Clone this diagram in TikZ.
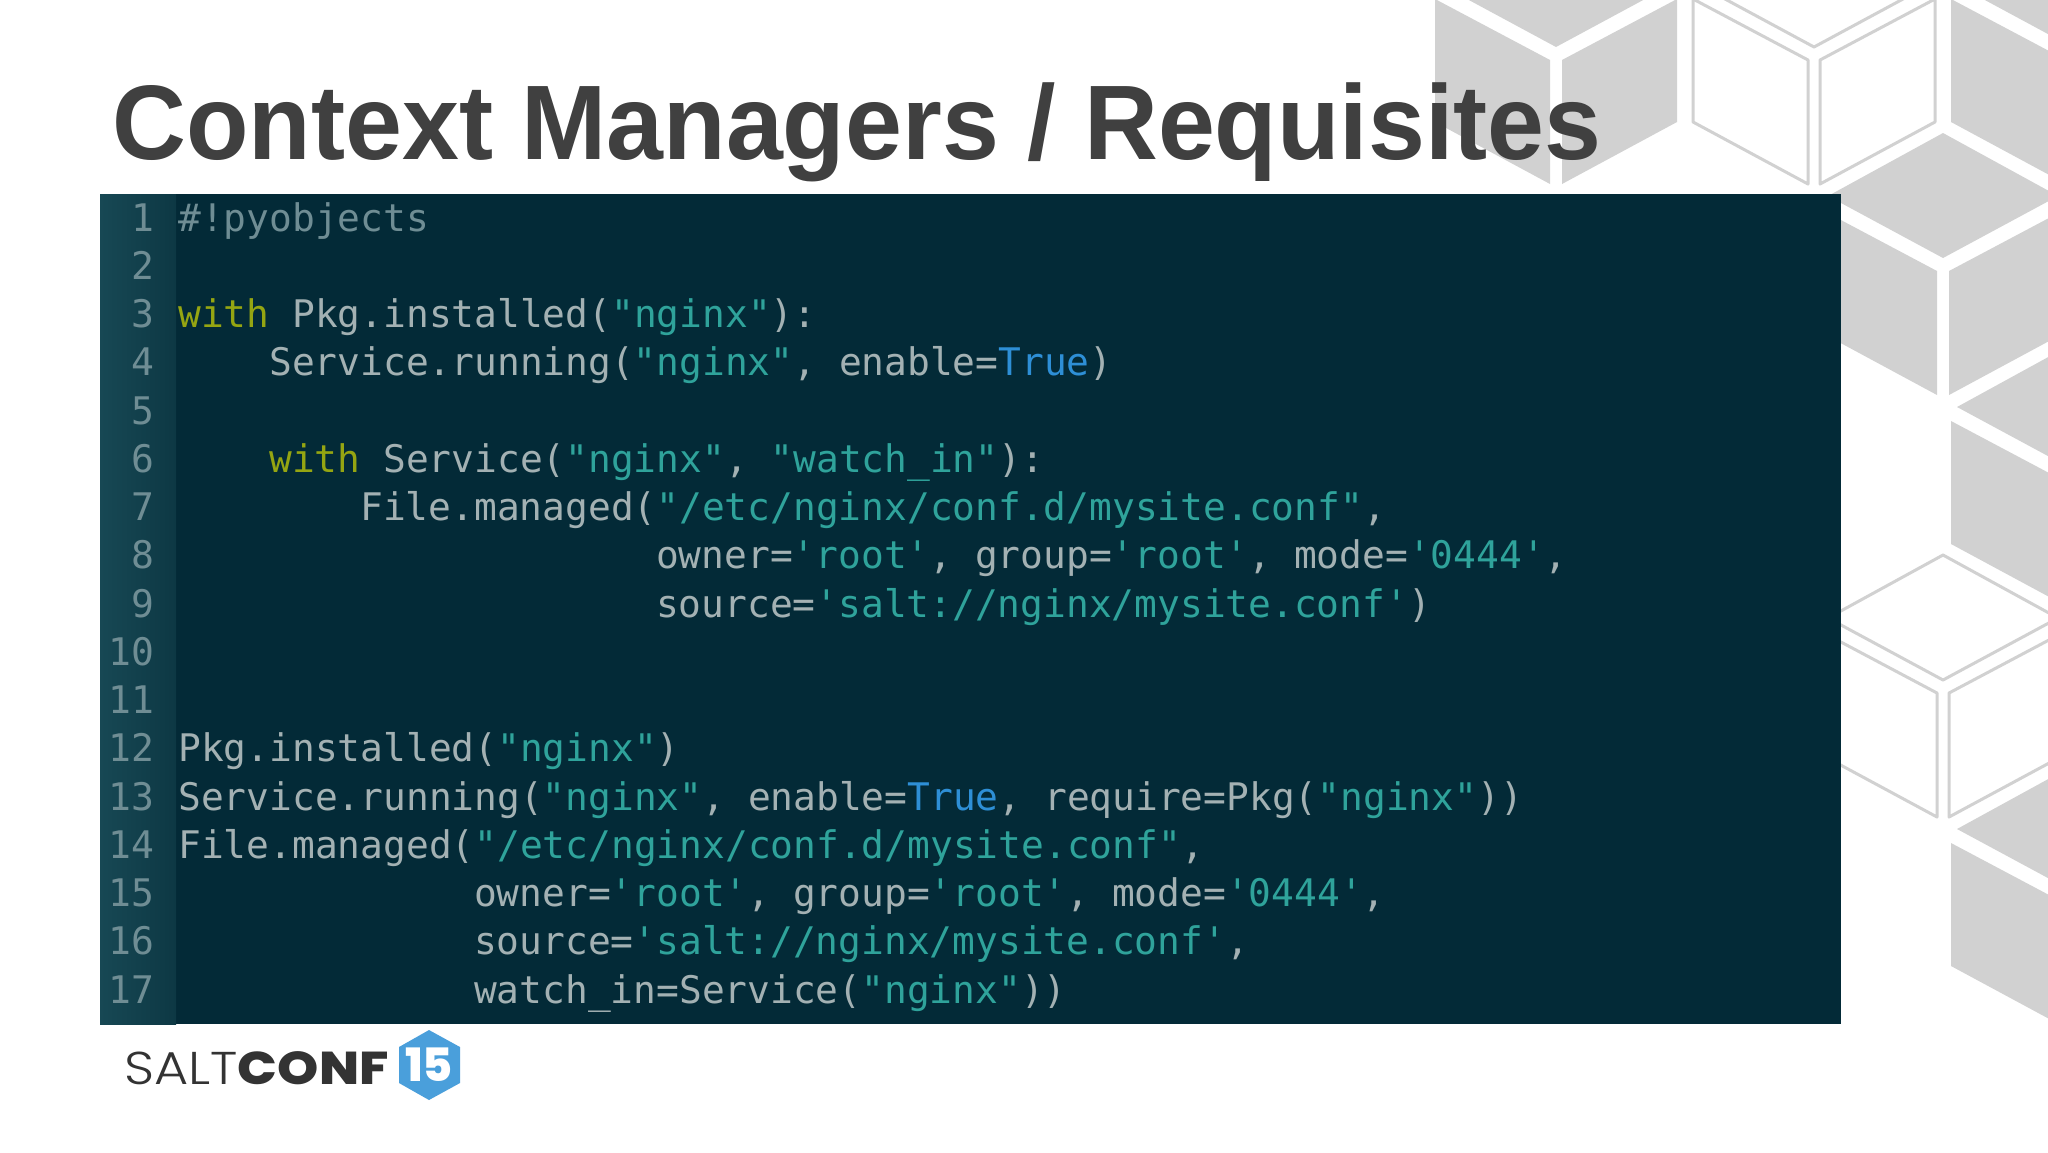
\documentclass[tikz,border=0pt]{standalone}
\usepackage{fontspec}
\setmainfont{Liberation Sans}
\newfontfamily\codefont{DejaVu Sans Mono}
\newfontfamily\logolight{Poppins Light}
\newfontfamily\logobold{Poppins ExtraBold}
\definecolor{titlegray}{HTML}{404040}
\definecolor{cubegray}{HTML}{D1D1D1}
\definecolor{panelblue}{HTML}{032A37}
\definecolor{gutterblue}{HTML}{0D3844}
\definecolor{gutterlight}{HTML}{174854}
\definecolor{codegray}{HTML}{A3B1B3}
\definecolor{numgray}{HTML}{6F8D94}
\definecolor{codecyan}{HTML}{2FA39B}
\definecolor{codegreen}{HTML}{95A512}
\definecolor{codeblue}{HTML}{2E8FD6}
\definecolor{hexblue}{HTML}{4A9FDB}
\newcommand{\cstr}[1]{\textcolor{codecyan}{#1}}
\newcommand{\ckw}[1]{\textcolor{codegreen}{#1}}
\newcommand{\cval}[1]{\textcolor{codeblue}{#1}}
\tikzset{
	cube/.pic={
		\path[pic actions] (-115,-62)--(0,0)--(115,-62)--(0,-125)--cycle;
		\path[pic actions] (-121,-48)--(-6,13)--(-6,137)--(-121,75)--cycle;
		\path[pic actions] (6,13)--(121,-48)--(121,75)--(6,137)--cycle;
	},
	codeline/.style={anchor=base west, inner sep=0pt, font=\codefont\fontsize{19}{19}\selectfont, text=codegray},
	numline/.style={anchor=base east, inner sep=0pt, font=\codefont\fontsize{19}{19}\selectfont, text=numgray}
}
\begin{document}
\begin{tikzpicture}[x=.5pt, y=-.5pt]
\clip (0,0) rectangle (2048,1152);
\fill[white] (0,0) rectangle (2048,1152);
% cubes behind the slide
\foreach \x/\y in {1556/47,2072/47,1943/258,2072/469,2072/891}
	\pic[fill=cubegray] at (\x,\y) {cube};
\foreach \x/\y in {1814/47,1943/680}
	\pic[draw=cubegray, line width=1.5pt, line join=round] at (\x,\y) {cube};
\node[anchor=base west, inner sep=0pt, xscale=.965, text=titlegray, font=\bfseries\fontsize{53}{53}\selectfont] (title) at (112,159) {Context Managers / Requisites};
% code panel
\fill[panelblue] (100,194) rectangle (1841,1024);
\shade[left color=gutterlight, right color=gutterblue] (100,194) rectangle (176,1024);
\foreach \n in {1,...,17}
	\node[numline] (n\n) at (155,231+48.25*\n-48.25) {\n};
\foreach \n/\col/\code in {
	1/0/{\textcolor{numgray}{\#!pyobjects}},
	3/0/{\ckw{with} Pkg.installed(\cstr{"nginx"}):},
	4/4/{Service.running(\cstr{"nginx"}, enable=\cval{True})},
	6/4/{\ckw{with} Service(\cstr{"nginx"}, \cstr{"watch\_in"}):},
	7/8/{File.managed(\cstr{"/etc/nginx/conf.d/mysite.conf"},},
	8/21/{owner=\cstr{'root'}, group=\cstr{'root'}, mode=\cstr{'0444'},},
	9/21/{source=\cstr{'salt://nginx/mysite.conf'})},
	12/0/{Pkg.installed(\cstr{"nginx"})},
	13/0/{Service.running(\cstr{"nginx"}, enable=\cval{True}, require=Pkg(\cstr{"nginx"}))},
	14/0/{File.managed(\cstr{"/etc/nginx/conf.d/mysite.conf"},},
	15/13/{owner=\cstr{'root'}, group=\cstr{'root'}, mode=\cstr{'0444'},},
	16/13/{source=\cstr{'salt://nginx/mysite.conf'},},
	17/13/{watch\_in=Service(\cstr{"nginx"}))}}
{
	\node[codeline, xscale=.996] (c\n) at (178+22.75*\col,231+48.25*\n-48.25) {\code};
}
% logo
\node[anchor=base west, inner sep=0pt, xscale=1.14, text=black!80, font=\fontsize{23}{23}\selectfont] (salt) at (124,1084) {\logolight SALT\logobold CONF};
\fill[hexblue] (429,1030)--(460,1047)--(460,1083)--(429,1100)--(399,1083)--(399,1047)--cycle;
\node[inner sep=0pt, text=white, font=\logobold\fontsize{23}{23}\selectfont] (fifteen) at (429,1065) {15};
\end{tikzpicture}
\end{document}
